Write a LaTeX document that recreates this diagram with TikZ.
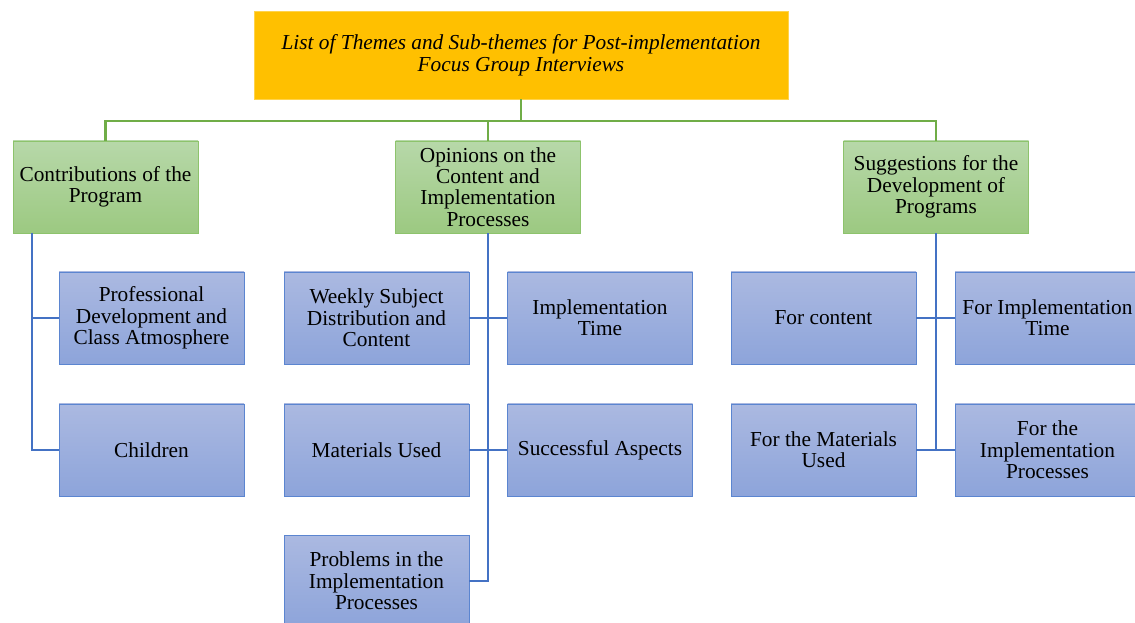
\documentclass[tikz,border=0pt]{standalone}
\usepackage{fontspec}
\setmainfont{Liberation Serif}
\definecolor{titlegold}{HTML}{FFC000}
\definecolor{greentop}{HTML}{B7D8A9}
\definecolor{greenbot}{HTML}{9CC981}
\definecolor{greenedge}{HTML}{8DC36C}
\definecolor{greenwire}{HTML}{70AD47}
\definecolor{bluetop}{HTML}{ABB9E1}
\definecolor{bluebot}{HTML}{8DA4DA}
\definecolor{blueedge}{HTML}{5B85D0}
\definecolor{bluewire}{HTML}{4472C4}

\begin{document}
\begin{tikzpicture}[x=0.75pt,y=0.75pt,yscale=-1,xscale=1,
    every node/.style={font=\fontsize{16}{16}\selectfont, align=center, inner sep=0.75pt},
    titlebox/.style={fill=titlegold, draw=titlegold!70, minimum width=400.5pt, minimum height=66pt, font=\fontsize{16}{16.5}\selectfont\itshape},
    themebox/.style={draw=greenedge, top color=greentop, bottom color=greenbot, minimum width=138.75pt, minimum height=69pt},
    subbox/.style={draw=blueedge, top color=bluetop, bottom color=bluebot, minimum width=138.75pt, minimum height=69pt},
    greenwire/.style={draw=greenwire, line width=1.6pt},
    bluewire/.style={draw=bluewire, line width=2pt}]
        \useasboundingbox (0,0) rectangle (1135,623);

        %Shape: Title
        \node [titlebox] (title) at (521,55) {List of Themes and Sub-themes for Post-implementation\\Focus Group Interviews};

        %Shape: Themes
        \node [themebox] (contrib) at (105.5,187) {Contributions of the\\Program};
        \node [themebox] (opinion) at (488,187) {Opinions on the\\Content and\\Implementation\\Processes};
        \node [themebox] (suggest) at (936,187) {Suggestions for the\\Development of\\Programs};

        %Shape: Sub-themes of contributions
        \node [subbox] (prof) at (151.5,318) {Professional\\Development and\\Class Atmosphere};
        \node [subbox] (children) at (151.5,450) {Children};

        %Shape: Sub-themes of opinions
        \node [subbox] (weekly) at (376.5,318) {Weekly Subject\\Distribution and\\Content};
        \node [subbox] (materials) at (376.5,450) {Materials Used};
        \node [subbox] (problems) at (376.5,581) {Problems in the\\Implementation\\Processes};
        \node [subbox] (impltime) at (600,318) {Implementation\\Time};
        \node [subbox] (success) at (600,450) {Successful Aspects};

        %Shape: Sub-themes of suggestions
        \node [subbox] (forcontent) at (823.5,318) {For content};
        \node [subbox] (formaterials) at (823.5,450) {For the Materials\\Used};
        \node [subbox] (forimpltime) at (1047.5,318) {For Implementation\\Time};
        \node [subbox] (forprocesses) at (1047.5,450) {For the\\Implementation\\Processes};

        %Straight Lines: title to themes
        \coordinate (hub) at (521,121);
        \draw [greenwire] (title.south) -- (hub);
        \draw [greenwire] (hub) -| (contrib.north);
        \draw [greenwire] (hub) -| (opinion.north);
        \draw [greenwire] (hub) -| (suggest.north);

        %Straight Lines: contributions
        \coordinate (contribfoot) at (32,233);
        \draw [bluewire] (contribfoot) |- (children.west);
        \draw [bluewire] (contribfoot) |- (prof.west);

        %Straight Lines: opinions
        \draw [bluewire] (opinion.south) |- (problems.east);
        \draw [bluewire] (weekly.east) -- (impltime.west);
        \draw [bluewire] (materials.east) -- (success.west);

        %Straight Lines: suggestions
        \draw [bluewire] (suggest.south) -- (suggest.south |- formaterials.east);
        \draw [bluewire] (forcontent.east) -- (forimpltime.west);
        \draw [bluewire] (formaterials.east) -- (forprocesses.west);

\end{tikzpicture}
\end{document}
